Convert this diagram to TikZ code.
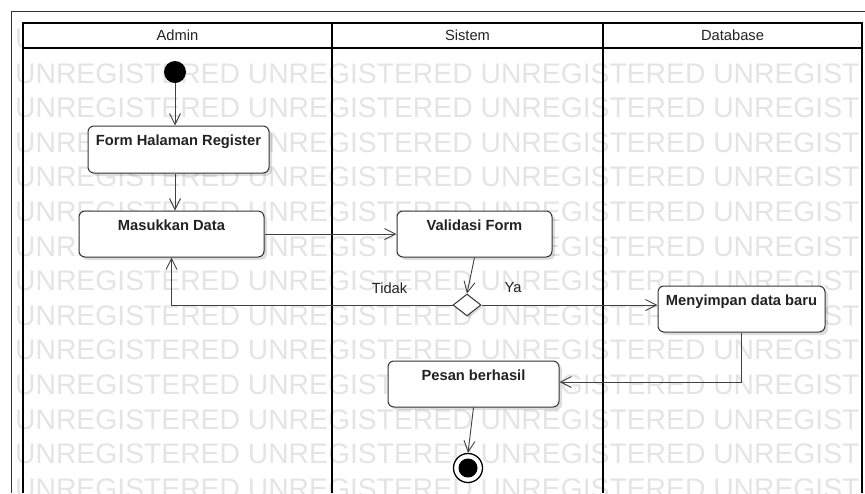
\documentclass[tikz,border=0pt]{standalone}
\usepackage{fontspec}
\setmainfont{Liberation Sans}
\usetikzlibrary{arrows.meta,shapes.geometric,shadows}
\definecolor{edgegray}{HTML}{404040}
\definecolor{boxgray}{HTML}{333333}
\definecolor{markgray}{HTML}{E4E4E4}
\definecolor{inkgray}{HTML}{222222}
\begin{document}
\begin{tikzpicture}[x=1pt,y=-1pt,
  every node/.style={font=\fontsize{14.7}{17}\selectfont, text=inkgray},
  wmark/.style={font=\fontsize{28.3}{30}\selectfont, text=markgray, anchor=base west, inner sep=0},
  frameline/.style={draw=boxgray, line width=1pt},
  lane/.style={draw=black, line width=1.3pt},
  act/.style={draw=boxgray, line width=1pt, rounded corners=6pt, fill=white, inner sep=0,
    drop shadow={shadow xshift=3pt, shadow yshift=-3pt, opacity=0.13, fill=black}},
  acttitle/.style={font=\fontsize{14.7}{17}\selectfont\bfseries, anchor=base, inner sep=0},
  flow/.style={draw=edgegray, line width=0.9pt,
    -{Straight Barb[length=11pt,width=11pt,line width=0.9pt]}},
  edgelbl/.style={inner sep=0}
]
\useasboundingbox (0,0) rectangle (865,493);

% faint background lettering
\begin{scope}
  \clip (12,12) rectangle (862,493);
  \foreach \k in {-1,...,12}
    \node[wmark] (wm\k) at (15,83+34.6*\k) {UNREGISTERED UNREGISTERED UNREGISTERED UNREGISTERED};
\end{scope}

% outer frame
\draw[frameline] (865,11) -- (11,11) -- (11,493);

% swimlanes
\draw[lane, fill=white] (23,23) rectangle (862,48);
\draw[lane] (23,23) -- (23,493);
\draw[lane] (332,23) -- (332,493);
\draw[lane] (603,23) -- (603,493);
\draw[lane] (862,23) -- (862,493);
\node (hadmin) at (177.5,35.5) {Admin};
\node (hsistem) at (467.5,35.5) {Sistem};
\node (hdb) at (732.5,35.5) {Database};

% start and end
\node[circle, fill=black, minimum size=22pt, inner sep=0] (init) at (175,72) {};
\node[circle, draw=black, line width=1.3pt, fill=white, minimum size=29pt, inner sep=0,
  path picture={\fill[black] (path picture bounding box.center) circle (9.5pt);}] (final) at (468,468) {};

% activities
\node[act, minimum width=181pt, minimum height=47pt] (form) at (178.5,149.5) {};
\node[act, minimum width=185pt, minimum height=46pt] (masuk) at (171.5,234) {};
\node[act, minimum width=155pt, minimum height=46pt] (valid) at (474.5,234) {};
\node[act, minimum width=167pt, minimum height=46pt] (simpan) at (741.5,309) {};
\node[act, minimum width=171pt, minimum height=46pt] (pesan) at (473.5,384) {};

\node[acttitle] (formt) at ([yshift=-20pt]form.north) {Form Halaman Register};
\node[acttitle] (masukt) at ([yshift=-20pt]masuk.north) {Masukkan Data};
\node[acttitle] (validt) at ([yshift=-19.5pt]valid.north) {Validasi Form};
\node[acttitle] (simpant) at ([yshift=-19.5pt]simpan.north) {Menyimpan data baru};
\node[acttitle] (pesant) at ([yshift=-19.5pt]pesan.north) {Pesan berhasil};

% decision
\node[diamond, draw=boxgray, line width=1pt, fill=white, minimum width=28pt, minimum height=22pt,
  inner sep=0, drop shadow={shadow xshift=2pt, shadow yshift=-2pt, opacity=0.13, fill=black}] (dec) at (467,305) {};

% control flow
\draw[flow] (init) -- (init |- form.north);
\draw[flow] (form.south -| init) -- (masuk.north -| init);
\draw[flow] (masuk) -- (valid);
\draw[flow] (valid.south) -- (dec.north);
\draw[flow] (dec.west) -| node[edgelbl, pos=0.112, yshift=17pt] (ltidak) {Tidak} (masuk.south);
\draw[flow] (dec.east) -- node[edgelbl, pos=0.18, yshift=17pt] (lya) {Ya} (dec.east -| simpan.west);
\draw[flow] (simpan.south) |- ([yshift=2pt]pesan.east);
\draw[flow] (pesan.south) -- (final.north);
\end{tikzpicture}
\end{document}
